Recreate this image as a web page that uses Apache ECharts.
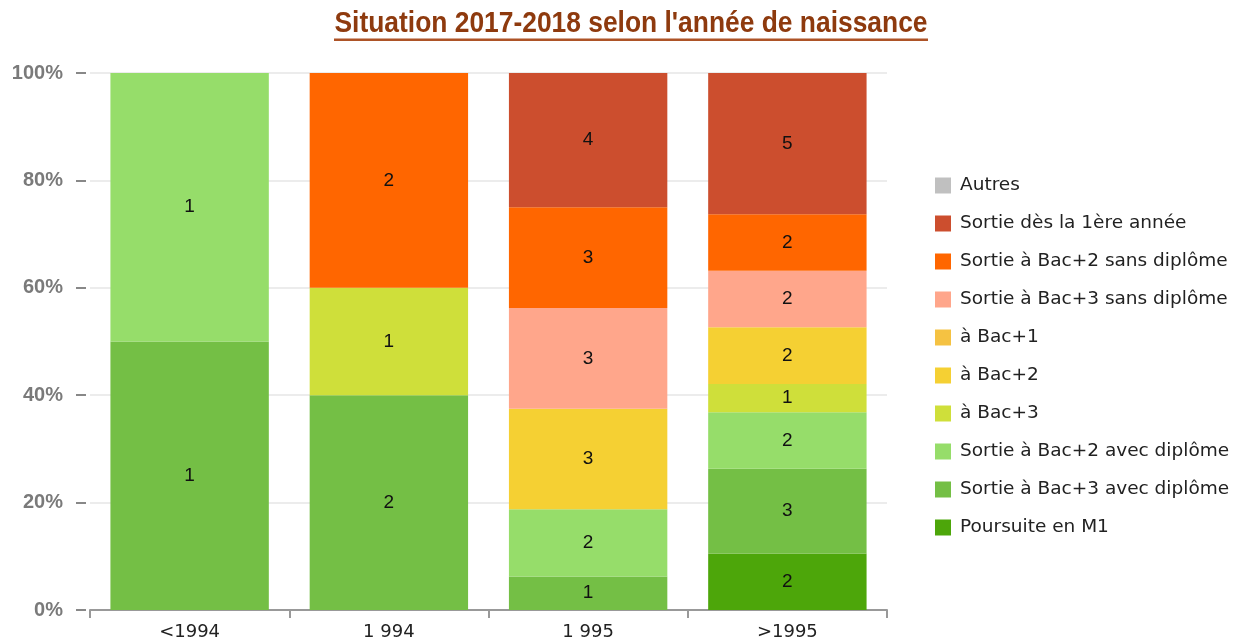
<!DOCTYPE html>
<html>
<head>
<meta charset="utf-8">
<script src="https://cdn.jsdelivr.net/npm/echarts@6/dist/echarts.min.js"></script>
<style>
  html, body { margin: 0; padding: 0; background: #fff; }
  #echart { width: 1238px; height: 642px; }
</style>
</head>
<body>
<div id="echart"></div>
<script>
// categories (année de naissance)
var categories = ["<1994", "1 994", "1 995", ">1995"];

// effectifs par situation, de bas en haut de la pile
var poursuiteM1 = [0, 0, 0, 2];
var bac3Avec = [1, 2, 1, 3];
var bac2Avec = [1, 0, 2, 2];
var aBac3 = [0, 1, 0, 1];
var aBac2 = [0, 0, 3, 2];
var aBac1 = [0, 0, 0, 0];
var bac3Sans = [0, 0, 3, 2];
var bac2Sans = [0, 2, 3, 2];
var sortie1ere = [0, 0, 4, 5];
var autres = [0, 0, 0, 0];

var yTicks = [0, 20, 40, 60, 80, 100];

var titleText = "Situation 2017-2018 selon l'année de naissance";

var seriesDefs = [
  { name: "Poursuite en M1", data: poursuiteM1, color: "#4da60a" },
  { name: "Sortie à Bac+3 avec diplôme", data: bac3Avec, color: "#74bf45" },
  { name: "Sortie à Bac+2 avec diplôme", data: bac2Avec, color: "#96dd6a" },
  { name: "à Bac+3", data: aBac3, color: "#cfdf3a" },
  { name: "à Bac+2", data: aBac2, color: "#f5d033" },
  { name: "à Bac+1", data: aBac1, color: "#f5c242" },
  { name: "Sortie à Bac+3 sans diplôme", data: bac3Sans, color: "#ffa68b" },
  { name: "Sortie à Bac+2 sans diplôme", data: bac2Sans, color: "#ff6600" },
  { name: "Sortie dès la 1ère année", data: sortie1ere, color: "#cc4e2e" },
  { name: "Autres", data: autres, color: "#c0c0c0" }
];

// totaux par catégorie pour passer en pourcentage
var totals = categories.map(function (c, i) {
  return seriesDefs.reduce(function (s, d) { return s + d.data[i]; }, 0);
});

var myChart = echarts.init(document.getElementById("echart"));

var series = seriesDefs.map(function (d) {
  return {
    name: d.name,
    type: "bar",
    stack: "total",
    barCategoryGap: "20.5%",
    itemStyle: { color: d.color },
    label: {
      show: true,
      position: "inside",
      color: "#111",
      fontSize: 19,
      fontFamily: "Liberation Sans, Arial, sans-serif",
      formatter: function (p) { return d.data[p.dataIndex]; }
    },
    data: d.data.map(function (v, i) {
      return v > 0 ? (v / totals[i]) * 100 : null;
    })
  };
});

var option = {
  animation: false,
  backgroundColor: "#fff",
  graphic: [
    {
      // titre en police étroite (mise à l'échelle horizontale)
      type: "text",
      x: 631,
      y: 9,
      scaleX: 0.91,
      style: {
        text: titleText,
        font: "bold 29px 'Liberation Sans', Arial, sans-serif",
        fill: "#8e3a0e",
        align: "center",
        verticalAlign: "top"
      }
    },
    {
      type: "rect",
      left: 334,
      top: 38.5,
      shape: { width: 594, height: 2.5 },
      style: { fill: "#ad5327" }
    }
  ],
  legend: {
    orient: "vertical",
    left: 930,
    top: 171,
    itemWidth: 16,
    itemHeight: 16,
    itemGap: 19,
    icon: "rect",
    data: seriesDefs.map(function (d) { return d.name; }).reverse(),
    textStyle: {
      color: "#222",
      fontSize: 18.5,
      padding: [0, 0, 0, 4],
      fontFamily: "DejaVu Sans, sans-serif"
    }
  },
  grid: { left: 90, right: 351, top: 73, bottom: 32 },
  xAxis: {
    type: "category",
    data: categories,
    axisLine: { lineStyle: { color: "#999", width: 2 } },
    axisTick: { show: true, length: 8, lineStyle: { color: "#999", width: 2 } },
    axisLabel: {
      color: "#222",
      fontSize: 18,
      margin: 13,
      fontFamily: "DejaVu Sans, sans-serif"
    }
  },
  yAxis: {
    type: "value",
    min: 0,
    max: 100,
    interval: 20,
    offset: 4,
    axisLine: { show: false },
    axisTick: { show: true, length: 10, lineStyle: { color: "#888", width: 2 } },
    axisLabel: {
      color: "#7a7a7a",
      fontSize: 20,
      fontWeight: "bold",
      margin: 23,
      fontFamily: "Liberation Sans, Arial, sans-serif",
      formatter: function (v) { return yTicks.indexOf(v) >= 0 ? v + "%" : ""; }
    },
    splitLine: { lineStyle: { color: "#e6e6e6", width: 1.5 } }
  },
  series: series
};

myChart.setOption(option);
</script>
</body>
</html>
